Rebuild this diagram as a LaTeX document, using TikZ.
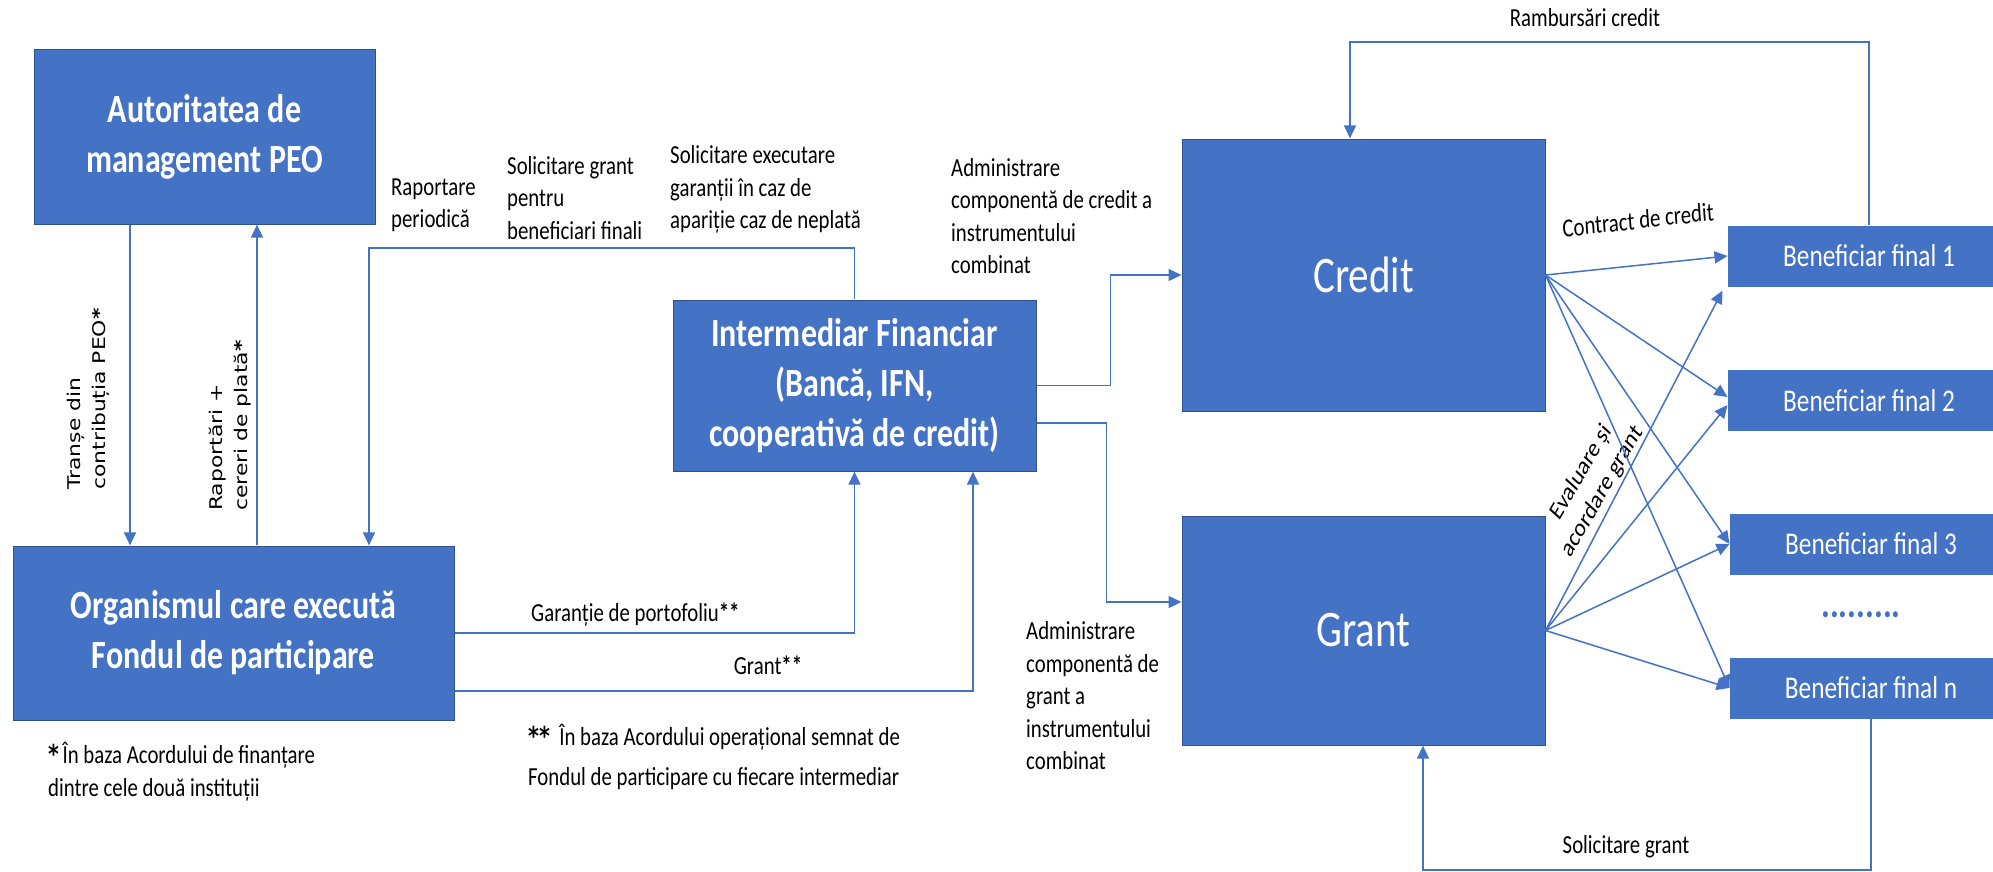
\documentclass[tikz,border=0pt]{standalone}
\usepackage{fontspec}
\setmainfont{Carlito}
\newfontfamily\dejavu{DejaVu Sans}
\usepackage{tikz}
\usetikzlibrary{arrows.meta,calc}
\usepackage{xcolor}
\definecolor{peoblue}{HTML}{4472C4}
\definecolor{peoedge}{HTML}{2F528F}

\begin{document}
\begin{tikzpicture}[
  x=1pt,y=-1pt,
  tall/.style={yscale=1.25},
  box/.style={tall,fill=peoblue,draw=peoedge,line width=1pt,text=white,align=center,minimum width=#1},
  headfont/.style={font=\bfseries\fontsize{32}{40}\selectfont},
  bigfont/.style={font=\fontsize{41}{50}\selectfont},
  benef/.style={box=282pt,minimum height=48pt,draw=peoblue,font=\fontsize{25.3}{30}\selectfont},
  lbl/.style={tall,inner sep=0pt,align=left,font=\fontsize{20.8}{26}\selectfont},
  vlbl/.style={tall,rotate=90,inner sep=0pt,align=left,anchor=west,font=\dejavu\fontsize{17.5}{25}\selectfont},
  arr/.style={draw=peoblue,line width=1.5pt,-{Triangle[length=13pt,width=12pt]}}
  ]
\fill[white] (0,0) rectangle (1993,872);
\useasboundingbox (0,0) rectangle (1993,872);
\node[box=341pt,minimum height=139.2pt,headfont] (am) at (204.5,137) {Autoritatea de\\management PEO};               % managing authority
\node[box=441pt,minimum height=139.2pt,headfont] (oc) at (233.5,633) {Organismul care execută\\Fondul de participare}; % fund body
\node[box=363pt,minimum height=136.8pt,headfont] (fi) at (854.5,385.5) {Intermediar Financiar\\(Bancă, IFN,\\cooperativă de credit)};
\node[box=363pt,minimum height=217.6pt,bigfont] (credit) at (1363.5,275) {Credit};
\node[box=363pt,minimum height=183.2pt,bigfont] (grant) at (1363.5,630.5) {Grant};
\node[benef] (bf1) at (1869,256) {Beneficiar final 1};
\node[benef] (bf2) at (1869,400.5) {Beneficiar final 2};
\node[benef] (bf3) at (1871,544) {Beneficiar final 3};
\node[benef] (bfn) at (1871,688) {Beneficiar final n};
\node[tall,inner sep=0pt,text=peoblue,font=\bfseries\fontsize{33}{33}\selectfont] (dots) at (1861,615) {.........};
% labels
\node[vlbl] (transe) at (88,490) {Tranșe din\\contribuția PEO{\bfseries*}};
\node[vlbl] (rapcer) at (230,511) {Raportări +\\cereri de plată{\bfseries*}};
\node[lbl,anchor=west] (rapper) at (391,205.5) {Raportare\\periodică};
\node[lbl,anchor=west] (solgr) at (507,198) {Solicitare grant\\pentru\\beneficiari finali};
\node[lbl,anchor=west] (solex) at (670,189.5) {Solicitare executare\\garanții în caz de\\apariție caz de neplată};
\node[lbl,anchor=west] (admcr) at (951,216) {Administrare\\componentă de credit a\\instrumentului\\combinat};
\node[lbl,anchor=west] (admgr) at (1026,696) {Administrare\\componentă de\\grant a\\instrumentului\\combinat};
\node[lbl,anchor=west] (garp) at (531,615) {Garanție de portofoliu\textbf{**}};
\node[lbl] (grst) at (768,665) {Grant\textbf{**}};
\node[lbl] (ramb) at (1585,18) {Rambursări credit};
\node[lbl] (solbf) at (1626,847) {Solicitare grant};
\node[lbl,rotate=5.1] (contr) at (1638,220) {Contract de credit};
\node[lbl,align=center,rotate=54.2] (evgr) at (1592,482) {Evaluare și\\acordare grant};
\node[lbl,anchor=west] (fn1) at (48,771.5) {{\dejavu\bfseries*}\,În baza Acordului de finanțare\\dintre cele două instituții};
\node[lbl,anchor=west,font=\fontsize{20.8}{32}\selectfont] (fn2) at (528,757) {{\dejavu\bfseries**}\ \ În baza Acordului operațional semnat de\\Fondul de participare cu fiecare intermediar};
% connectors
\coordinate (rp) at (369,248);   % bend of the reporting line
\coordinate (rc) at (1350,42);   % bend of the repayment line
\coordinate (sg) at (1423,870);  % bend of the grant request line
\draw[arr] ([xshift=-74.5pt]am.south) -- ([xshift=-74.5pt]am.south |- oc.north);
\draw[arr] ([xshift=23.5pt]oc.north) -- ([xshift=23.5pt]oc.north |- am.south);
\draw[arr] (fi.north) |- (rp) -- (rp |- oc.north);
\draw[arr] (oc.east) -| (fi.south);
\draw[arr] ([yshift=-58pt]oc.east) -| ([xshift=118.5pt]fi.south);
\draw[arr] (fi.east) -- ++(74,0) |- (credit.west);
\draw[arr] ([yshift=-37.5pt]fi.east) -- ++(70,0) |- ([yshift=28.5pt]grant.west);
\draw[arr] (bf1.north) |- (rc) -- (rc |- credit.north);
\draw[arr] (bfn.south) |- (sg) -- (sg |- grant.south);
\draw[arr] (credit.east) -- (bf1.west);
\draw[arr] (credit.east) -- ([yshift=3.5pt]bf2.west);
\draw[arr] (grant.east) -- ([xshift=-5pt,yshift=-4pt]bf1.south west);
\draw[arr] (grant.east) -- ([yshift=-4.5pt]bf2.west);
\foreach \b in {bf3,bfn}{
  \draw[arr] (credit.east) -- (\b.west);
  \draw[arr] (grant.east) -- (\b.west);
}
\end{tikzpicture}
\end{document}
